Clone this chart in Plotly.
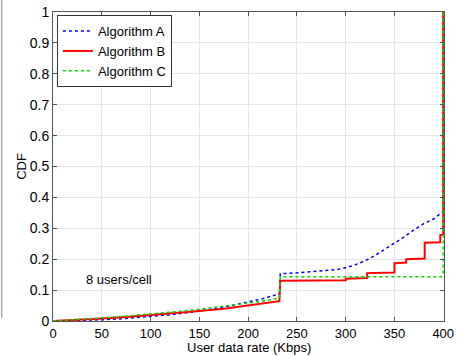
import plotly.graph_objects as go

# Algorithm A (blue dotted)
a_x = [0, 25, 50, 75, 100, 125, 150, 175, 200, 215, 232, 233, 250, 270, 290, 300, 310, 320, 330, 340, 350, 360, 370, 380, 390, 395, 398, 400, 400]
a_y = [0, 0.001, 0.004, 0.008, 0.014, 0.022, 0.032, 0.045, 0.062, 0.072, 0.088, 0.153, 0.156, 0.160, 0.166, 0.172, 0.182, 0.195, 0.212, 0.232, 0.252, 0.272, 0.295, 0.315, 0.330, 0.343, 0.352, 0.355, 1.0]

# Algorithm B (red solid)
b_x = [0, 25, 50, 75, 100, 125, 150, 175, 200, 215, 232, 233, 300, 300, 322, 322, 350, 350, 362, 362, 381, 381, 397, 397, 400, 400]
b_y = [0, 0.003, 0.008, 0.013, 0.019, 0.025, 0.032, 0.040, 0.050, 0.056, 0.064, 0.130, 0.132, 0.137, 0.139, 0.155, 0.157, 0.187, 0.189, 0.200, 0.202, 0.253, 0.255, 0.278, 0.280, 1.0]

# Algorithm C (green dotted)
c_x = [0, 25, 50, 75, 100, 125, 150, 175, 200, 215, 232, 233, 398, 400, 400]
c_y = [0, 0.004, 0.010, 0.016, 0.022, 0.030, 0.038, 0.047, 0.058, 0.064, 0.074, 0.143, 0.143, 0.15, 1.0]

x_ticks = [0, 50, 100, 150, 200, 250, 300, 350, 400]
y_ticks = [0, 0.1, 0.2, 0.3, 0.4, 0.5, 0.6, 0.7, 0.8, 0.9, 1]
y_tick_labels = ["0", "0.1", "0.2", "0.3", "0.4", "0.5", "0.6", "0.7", "0.8", "0.9", "1"]

fig = go.Figure()
fig.add_trace(go.Scatter(x=a_x, y=a_y, mode="lines", name="Algorithm A",
                         line=dict(color="#0000ff", width=1.5, dash="dot")))
fig.add_trace(go.Scatter(x=b_x, y=b_y, mode="lines", name="Algorithm B",
                         line=dict(color="#ff0000", width=2)))
fig.add_trace(go.Scatter(x=c_x, y=c_y, mode="lines", name="Algorithm C",
                         line=dict(color="#00dd00", width=1.5, dash="dot")))

font = dict(family="Liberation Sans, Arial, sans-serif", size=13, color="black")

fig.update_layout(
    width=468, height=356,
    margin=dict(l=53, r=24, t=12, b=35),
    paper_bgcolor="white", plot_bgcolor="white",
    font=font,
    showlegend=True,
    legend=dict(x=0.01, y=0.99, xanchor="left", yanchor="top",
                bgcolor="white", bordercolor="#333333", borderwidth=1,
                font=dict(family="Liberation Sans, Arial, sans-serif", size=13),
                tracegroupgap=0, itemwidth=30),
    annotations=[
        dict(x=68, y=0.133, xref="x", yref="y", text="8 users/cell",
             showarrow=False, font=dict(size=13)),
        dict(x=0.5, y=-0.085, xref="paper", yref="paper", text="User data rate (Kbps)",
             showarrow=False, xanchor="center", yanchor="middle", font=dict(size=13)),
    ],
    shapes=[dict(type="line", xref="paper", yref="paper", x0=-0.131, x1=-0.131,
                 y0=0.01, y1=1.04, line=dict(color="#888888", width=1))],
)
fig.update_xaxes(range=[0, 400.8], tickvals=x_ticks, showgrid=True, gridcolor="#e6e6e6",
                 showline=True, linecolor="#555555", mirror="ticks", ticks="inside",
                 ticklen=4, tickcolor="#555555", zeroline=False, automargin=False,
                 tickfont=dict(size=13))
fig.update_yaxes(range=[0, 1], tickvals=y_ticks, ticktext=y_tick_labels, showgrid=True,
                 gridcolor="#e6e6e6", showline=True, linecolor="#555555", mirror="ticks",
                 ticks="inside", ticklen=4, tickcolor="#555555", zeroline=False,
                 automargin=False,
                 title=dict(text="CDF", standoff=0, font=dict(size=13)),
                 tickfont=dict(size=14))

fig.write_html("out.html", config={"displayModeBar": False},
               post_script="document.body.style.margin='0';document.body.style.padding='0';")
